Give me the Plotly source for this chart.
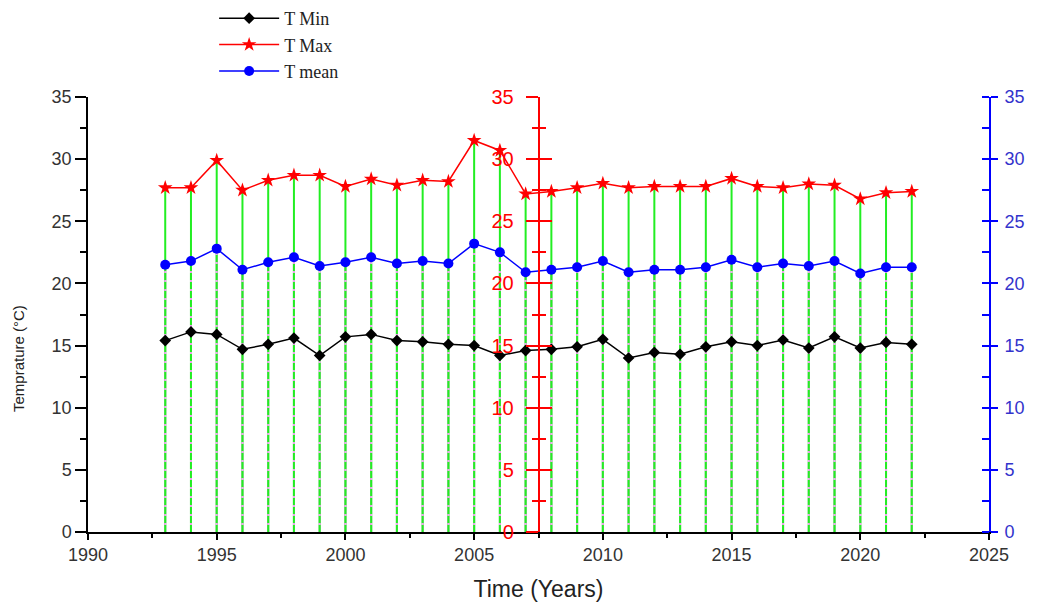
import plotly.graph_objects as go

years = list(range(1993, 2023))
t_min = [15.4, 16.1, 15.9, 14.7, 15.1, 15.6, 14.2, 15.7, 15.9, 15.4,
         15.3, 15.1, 15.0, 14.2, 14.6, 14.7, 14.9, 15.5, 14.0, 14.45,
         14.3, 14.9, 15.3, 15.0, 15.45, 14.8, 15.7, 14.8, 15.25, 15.1]
t_max = [27.7, 27.7, 29.9, 27.5, 28.3, 28.7, 28.7, 27.8, 28.4, 27.9,
         28.3, 28.2, 31.5, 30.7, 27.2, 27.4, 27.7, 28.05, 27.7, 27.8,
         27.8, 27.8, 28.45, 27.8, 27.7, 28.0, 27.9, 26.8, 27.3, 27.4]
t_mean = [21.5, 21.8, 22.8, 21.1, 21.7, 22.1, 21.4, 21.7, 22.1, 21.6,
          21.8, 21.6, 23.2, 22.5, 20.9, 21.1, 21.3, 21.8, 20.9, 21.1,
          21.1, 21.3, 21.9, 21.3, 21.6, 21.4, 21.8, 20.8, 21.3, 21.3]
y_ticks = [0, 5, 10, 15, 20, 25, 30, 35]
x_ticks = [1990, 1995, 2000, 2005, 2010, 2015, 2020, 2025]


def drops(xs, ys):
    dx, dy = [], []
    for x, y in zip(xs, ys):
        dx += [x, x, None]
        dy += [0, y, None]
    return dx, dy


fig = go.Figure()

gx, gy = drops(years, t_max)
fig.add_trace(go.Scatter(x=gx, y=gy, mode="lines", line=dict(color="#22ee22", width=2),
                         showlegend=False, hoverinfo="skip"))
px_, py_ = drops(years, t_mean)
fig.add_trace(go.Scatter(x=px_, y=py_, mode="lines", line=dict(color="#f0a0f0", width=2),
                         showlegend=False, hoverinfo="skip"))
fig.add_trace(go.Scatter(x=px_, y=py_, mode="lines", line=dict(color="#22ee22", width=2, dash="7px,2px"),
                         showlegend=False, hoverinfo="skip"))

fig.add_trace(go.Scatter(x=years, y=t_min, name="T Min", mode="lines+markers",
                         line=dict(color="black", width=1.5),
                         marker=dict(symbol="diamond", size=9, color="black")))
fig.add_trace(go.Scatter(x=years, y=t_max, name="T Max", mode="lines+markers",
                         line=dict(color="red", width=1.5),
                         marker=dict(symbol="star", size=11, color="red")))
fig.add_trace(go.Scatter(x=years, y=t_mean, name="T mean", mode="lines+markers",
                         line=dict(color="blue", width=1.5),
                         marker=dict(symbol="circle", size=10, color="blue")))

# invisible traces to activate the extra axes
fig.add_trace(go.Scatter(x=[None], y=[None], yaxis="y2", showlegend=False))
fig.add_trace(go.Scatter(x=[None], y=[None], yaxis="y3", showlegend=False))
fig.add_trace(go.Scatter(x=[None], y=[None], yaxis="y4", showlegend=False))

axfont = dict(family="Liberation Sans, Arial", size=18, color="#333")

fig.update_layout(
    width=1037, height=603,
    margin=dict(l=80, r=56, t=89, b=79, autoexpand=False),
    plot_bgcolor="white", paper_bgcolor="white",
    showlegend=True,
    legend=dict(x=0.14, y=1.223, xanchor="left", yanchor="top",
                font=dict(family="Liberation Serif, Times New Roman", size=18, color="#222"),
                bgcolor="rgba(0,0,0,0)", tracegroupgap=0, itemwidth=60),
    annotations=[dict(text="Temprature (°C)", textangle=-90, xref="paper", yref="paper",
                      x=-0.0777, y=0.4, xanchor="center", yanchor="middle", showarrow=False,
                      font=dict(family="Liberation Sans, Arial", size=15, color="#222"))],
    xaxis=dict(range=[1990, 2025], tickvals=x_ticks, showgrid=False, zeroline=False,
               showline=True, linecolor="black", linewidth=1.5, automargin=False,
               ticks="outside", ticklen=6, tickcolor="black", tickwidth=1.5,
               minor=dict(dtick=2.5, ticks="outside", ticklen=4, tickcolor="black", tickwidth=1.5),
               tickfont=axfont,
               title=dict(text="Time (Years)", font=dict(family="Liberation Sans, Arial", size=23, color="#222"),
                          standoff=17)),
    yaxis=dict(range=[0, 35], tickvals=y_ticks, showgrid=False, zeroline=False,
               showline=True, linecolor="black", linewidth=1.5, automargin=False,
               ticks="outside", ticklen=11, tickcolor="black", tickwidth=1.5,
               minor=dict(dtick=2.5, ticks="outside", ticklen=6, tickcolor="black", tickwidth=1.5),
               tickfont=axfont),
    yaxis2=dict(range=[0, 35], tickvals=y_ticks, overlaying="y", anchor="free", position=0.5,
                side="left", showgrid=False, zeroline=False, automargin=False,
                showline=True, linecolor="red", linewidth=1.5,
                ticks="outside", ticklen=12, tickcolor="red", tickwidth=1.5,
                minor=dict(dtick=2.5, ticks="outside", ticklen=6, tickcolor="red", tickwidth=1.5),
                ticklabelstandoff=8,
                tickfont=dict(family="Liberation Sans, Arial", size=20, color="red")),
    yaxis3=dict(range=[0, 35], tickvals=y_ticks, overlaying="y", anchor="free", position=0.5,
                side="left", showgrid=False, zeroline=False, showticklabels=False, automargin=False,
                showline=False,
                ticks="inside", ticklen=12, tickcolor="red", tickwidth=1.5,
                minor=dict(dtick=2.5, ticks="inside", ticklen=6, tickcolor="red", tickwidth=1.5)),
    yaxis4=dict(range=[0, 35], tickvals=y_ticks, overlaying="y", anchor="x",
                side="right", showgrid=False, zeroline=False, automargin=False,
                showline=True, linecolor="blue", linewidth=2,
                ticks="outside", ticklen=7, tickcolor="blue", tickwidth=1.5,
                minor=dict(dtick=2.5, ticks="inside", ticklen=7, tickcolor="blue", tickwidth=1.5),
                ticklabelstandoff=3,
                tickfont=dict(family="Liberation Sans, Arial", size=18, color="#3333cc")),
)

fig.write_html("out.html")
